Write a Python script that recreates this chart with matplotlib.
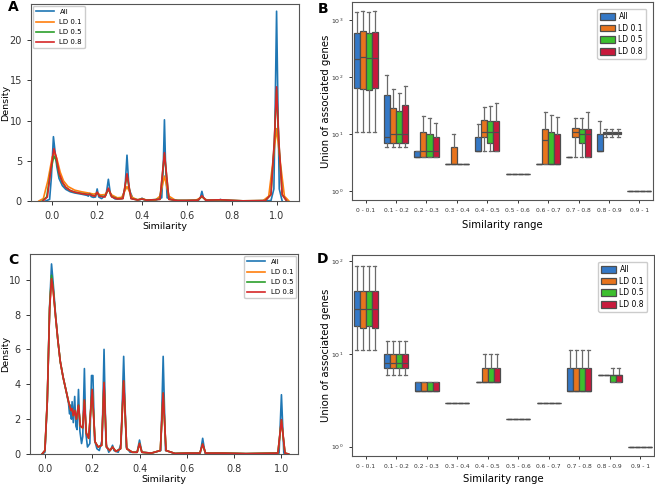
import numpy as np
import matplotlib
matplotlib.use("Agg")
import matplotlib.pyplot as plt
from matplotlib.patches import Patch
from matplotlib.ticker import LogLocator, LogFormatterMathtext, NullLocator

# ---------------- data ----------------
SERIES = ["All", "LD 0.1", "LD 0.5", "LD 0.8"]
LINE_COLORS = ["#1f77b4", "#ff7f0e", "#2ca02c", "#d62728"]
BOX_COLORS = ["#3478c6", "#e8741d", "#3cbf2e", "#c8193c"]

RANGES = ["0 - 0.1", "0.1 - 0.2", "0.2 - 0.3", "0.3 - 0.4", "0.4 - 0.5",
          "0.5 - 0.6", "0.6 - 0.7", "0.7 - 0.8", "0.8 - 0.9", "0.9 - 1"]

# panel A: density curves (similarity, density)
A_ALL = [(-0.03, 0), (-0.012, 0.2), (-0.004, 3.0), (0.005, 8.0), (0.012, 6.2), (0.02, 4.3),
         (0.03, 2.8), (0.045, 1.9), (0.06, 1.45), (0.08, 1.15), (0.1, 1.0), (0.13, 0.85),
         (0.155, 0.7), (0.161, 0.6), (0.167, 0.95), (0.173, 0.55), (0.183, 0.45), (0.193, 0.5),
         (0.2, 1.5), (0.207, 0.5), (0.22, 0.3), (0.24, 0.8), (0.25, 2.7), (0.26, 0.7),
         (0.28, 0.25), (0.31, 0.3), (0.324, 1.5), (0.333, 5.7), (0.342, 1.5), (0.36, 0.25),
         (0.385, 0.15), (0.394, 0.2), (0.4, 0.35), (0.406, 0.2), (0.42, 0.1), (0.46, 0.1),
         (0.488, 0.4), (0.495, 4.5), (0.5, 10.1), (0.505, 4.5), (0.512, 0.4), (0.54, 0.1),
         (0.6, 0.05), (0.65, 0.05), (0.66, 0.4), (0.667, 1.2), (0.674, 0.4), (0.69, 0.05),
         (0.74, 0.05), (0.75, 0.2), (0.76, 0.05), (0.8, 0.02), (0.9, 0.02), (0.975, 0.05),
         (0.988, 1.5), (0.994, 12.0), (1.0, 23.6), (1.006, 12.0), (1.012, 1.5), (1.025, 0)]
A_LD01 = [(-0.06, 0), (-0.04, 0.3), (-0.02, 2.5), (0.0, 5.5), (0.01, 6.0), (0.02, 5.3),
          (0.035, 3.6), (0.05, 2.5), (0.07, 1.8), (0.1, 1.35), (0.13, 1.15), (0.16, 1.0),
          (0.185, 0.85), (0.2, 1.0), (0.215, 0.75), (0.235, 0.8), (0.25, 1.4), (0.265, 0.75),
          (0.29, 0.4), (0.31, 0.45), (0.333, 1.8), (0.356, 0.45), (0.38, 0.15), (0.4, 0.3),
          (0.42, 0.12), (0.46, 0.12), (0.48, 0.6), (0.5, 3.1), (0.52, 0.6), (0.55, 0.08),
          (0.6, 0.05), (0.64, 0.1), (0.667, 0.5), (0.69, 0.1), (0.73, 0.05), (0.75, 0.15),
          (0.77, 0.05), (0.85, 0.02), (0.94, 0.05), (0.965, 0.6), (0.982, 4.5), (1.0, 9.0),
          (1.018, 4.5), (1.035, 0.6), (1.055, 0)]
A_LD05 = [(-0.045, 0), (-0.025, 0.5), (-0.008, 3.6), (0.007, 5.6), (0.018, 5.0), (0.03, 3.3),
          (0.045, 2.3), (0.06, 1.7), (0.08, 1.3), (0.1, 1.1), (0.13, 0.95), (0.16, 0.82),
          (0.168, 0.85), (0.175, 0.72), (0.19, 0.62), (0.2, 1.05), (0.21, 0.62), (0.235, 0.55),
          (0.25, 1.5), (0.265, 0.55), (0.29, 0.27), (0.315, 0.32), (0.333, 3.2), (0.351, 0.32),
          (0.38, 0.13), (0.4, 0.25), (0.42, 0.1), (0.48, 0.22), (0.5, 5.8), (0.52, 0.22),
          (0.56, 0.05), (0.65, 0.1), (0.667, 0.6), (0.684, 0.1), (0.75, 0.15), (0.85, 0.02),
          (0.95, 0.05), (0.975, 0.8), (0.99, 7.3), (1.0, 13.8), (1.01, 7.3), (1.025, 0.8),
          (1.045, 0)]
A_LD08 = [(-0.042, 0), (-0.022, 0.5), (-0.006, 4.0), (0.007, 6.5), (0.018, 5.4), (0.03, 3.5),
          (0.045, 2.35), (0.06, 1.7), (0.08, 1.3), (0.1, 1.1), (0.13, 0.92), (0.16, 0.8),
          (0.168, 0.85), (0.175, 0.7), (0.19, 0.6), (0.2, 1.1), (0.21, 0.6), (0.235, 0.5),
          (0.25, 1.6), (0.265, 0.5), (0.29, 0.25), (0.315, 0.3), (0.333, 3.4), (0.351, 0.3),
          (0.38, 0.12), (0.4, 0.25), (0.42, 0.1), (0.48, 0.2), (0.5, 6.0), (0.52, 0.2),
          (0.56, 0.05), (0.65, 0.1), (0.667, 0.65), (0.684, 0.1), (0.75, 0.15), (0.85, 0.02),
          (0.95, 0.05), (0.975, 0.8), (0.99, 7.5), (1.0, 14.2), (1.01, 7.5), (1.025, 0.8),
          (1.045, 0)]

# panel C: density curves
C_ALL = [(-0.01, 0), (0.0, 0.1), (0.01, 3.0), (0.02, 8.5), (0.028, 10.9), (0.035, 9.8),
         (0.045, 8.0), (0.055, 6.5), (0.065, 5.3), (0.077, 4.4), (0.09, 3.6), (0.1, 2.9),
         (0.104, 2.3), (0.108, 2.8), (0.112, 2.0), (0.115, 3.0), (0.12, 1.8), (0.126, 3.3),
         (0.131, 1.6), (0.136, 1.4), (0.142, 3.7), (0.148, 1.3), (0.155, 0.6), (0.16, 1.0),
         (0.167, 4.9), (0.173, 1.2), (0.18, 0.4), (0.19, 0.6), (0.197, 4.5), (0.203, 4.5),
         (0.21, 0.8), (0.22, 0.3), (0.23, 0.2), (0.242, 0.8), (0.25, 6.0), (0.258, 0.6),
         (0.27, 0.1), (0.28, 0.3), (0.286, 0.5), (0.292, 0.2), (0.31, 0.1), (0.322, 0.6),
         (0.333, 5.6), (0.344, 0.4), (0.36, 0.1), (0.39, 0.1), (0.4, 0.8), (0.41, 0.1),
         (0.45, 0.05), (0.49, 0.2), (0.5, 5.6), (0.51, 0.2), (0.55, 0.03), (0.6, 0.05),
         (0.657, 0.05), (0.667, 0.9), (0.677, 0.05), (0.75, 0.05), (0.85, 0.02), (0.99, 0.05),
         (1.0, 3.4), (1.01, 0.05), (1.02, 0)]
C_LD_X = [-0.012, 0.0, 0.01, 0.02, 0.028, 0.035, 0.045, 0.055, 0.065, 0.077, 0.09, 0.1,
          0.11, 0.115, 0.12, 0.126, 0.133, 0.142, 0.15, 0.16, 0.167, 0.175, 0.185, 0.2,
          0.212, 0.225, 0.24, 0.25, 0.26, 0.275, 0.286, 0.3, 0.32, 0.333, 0.346, 0.37,
          0.39, 0.4, 0.41, 0.45, 0.488, 0.5, 0.512, 0.55, 0.6, 0.655, 0.667, 0.679,
          0.75, 0.85, 0.985, 1.0, 1.015, 1.03]
C_LD01_Y = [0, 0.2, 3.1, 8.4, 10.1, 9.4, 7.9, 6.5, 5.3, 4.4, 3.6, 3.0,
            2.5, 2.6, 2.2, 2.45, 2.0, 2.7, 1.6, 1.5, 3.0, 1.2, 0.9, 3.6,
            0.7, 0.4, 0.5, 4.0, 0.4, 0.2, 0.4, 0.15, 0.3, 4.1, 0.3, 0.1,
            0.1, 0.6, 0.1, 0.05, 0.2, 3.4, 0.2, 0.03, 0.05, 0.05, 0.55, 0.05,
            0.05, 0.02, 0.05, 1.9, 0.05, 0]
C_LD05_Y = [0, 0.2, 3.0, 8.4, 10.25, 9.5, 7.9, 6.5, 5.3, 4.4, 3.6, 3.0,
            2.5, 2.6, 2.2, 2.5, 2.0, 2.8, 1.6, 1.5, 3.1, 1.2, 0.9, 3.7,
            0.7, 0.4, 0.5, 4.1, 0.4, 0.2, 0.4, 0.15, 0.3, 4.2, 0.3, 0.1,
            0.1, 0.6, 0.1, 0.05, 0.2, 3.5, 0.2, 0.03, 0.05, 0.05, 0.57, 0.05,
            0.05, 0.02, 0.05, 1.95, 0.05, 0]
C_LD08_Y = [0, 0.2, 3.0, 8.3, 10.05, 9.4, 7.9, 6.5, 5.3, 4.4, 3.6, 3.0,
            2.5, 2.6, 2.2, 2.5, 2.0, 2.8, 1.6, 1.5, 3.1, 1.2, 0.9, 3.7,
            0.7, 0.4, 0.5, 4.1, 0.4, 0.2, 0.4, 0.15, 0.3, 4.2, 0.3, 0.1,
            0.1, 0.6, 0.1, 0.05, 0.2, 3.5, 0.2, 0.03, 0.05, 0.05, 0.57, 0.05,
            0.05, 0.02, 0.05, 1.97, 0.05, 0]

# panel B: box stats per range (whisker low, q1, median, q3, whisker high)
B_ALL = [(10.7, 65, 210, 608, 1400), (6, 6.9, 8.9, 48, 111), (4, 4, 4, 5, 5), (3, 3, 3, 3, 3),
         (5, 5, 5, 9, 14.8), (2, 2, 2, 2, 2), (3, 3, 3, 3, 3), (4, 4, 4, 4, 4),
         (5, 5, 5, 10, 17), (1, 1, 1, 1, 1)]
B_LD01 = [(10.7, 63, 227, 641, 1480), (6, 6.9, 9.9, 29, 63), (4, 4, 5, 11, 20.4), (3, 3, 3, 6, 10),
          (5, 9, 10.7, 17.7, 30), (2, 2, 2, 2, 2), (3, 3, 8, 12, 24), (4, 9, 10.7, 12.7, 19),
          (9, 10, 10.5, 11, 12), (1, 1, 1, 1, 1)]
B_LD05 = [(10.7, 59, 213, 600, 1420), (6, 6.9, 10, 25, 53), (4, 4, 5, 10, 18.8), (3, 3, 3, 3, 3),
          (5, 7, 10.7, 17, 31.5), (2, 2, 2, 2, 2), (3, 3, 3, 11, 22), (4, 7, 10, 12, 19),
          (9, 10, 10.5, 11, 12), (1, 1, 1, 1, 1)]
B_LD08 = [(10.7, 65, 221, 624, 1480), (6, 6.9, 10, 32, 70), (4, 4, 5, 8.9, 15.8), (3, 3, 3, 3, 3),
          (5, 5, 10.7, 17, 34.7), (2, 2, 2, 2, 2), (3, 3, 3, 10, 20), (4, 4, 10, 12, 24),
          (9, 10, 10.5, 11, 12), (1, 1, 1, 1, 1)]

# panel D
D_ALL = [(11, 20, 31, 48, 90), (6, 7, 8, 10, 14), (4, 4, 4, 5, 5), (3, 3, 3, 3, 3),
         (5, 5, 5, 5, 5), (2, 2, 2, 2, 2), (3, 3, 3, 3, 3), (4, 4, 4, 7, 11),
         (6, 6, 6, 6, 6), (1, 1, 1, 1, 1)]
D_LD01 = [(11, 19, 31, 48, 90), (6, 7, 8, 10, 14), (4, 4, 4, 5, 5), (3, 3, 3, 3, 3),
          (5, 5, 5, 7, 10), (2, 2, 2, 2, 2), (3, 3, 3, 3, 3), (4, 4, 4, 7, 11),
          (6, 6, 6, 6, 6), (1, 1, 1, 1, 1)]
D_LD05 = [(11, 20, 31, 48, 90), (6, 7, 8, 10, 14), (4, 4, 4, 5, 5), (3, 3, 3, 3, 3),
          (5, 5, 5, 7, 10), (2, 2, 2, 2, 2), (3, 3, 3, 3, 3), (4, 4, 4, 7, 11),
          (5, 5, 6, 6, 7), (1, 1, 1, 1, 1)]
D_LD08 = [(11, 19, 31, 48, 90), (6, 7, 8, 10, 14), (4, 4, 4, 5, 5), (3, 3, 3, 3, 3),
          (5, 5, 5, 7, 10), (2, 2, 2, 2, 2), (3, 3, 3, 3, 3), (4, 4, 4, 7, 11),
          (5, 5, 6, 6, 7), (1, 1, 1, 1, 1)]

# ---------------- style ----------------
plt.rcParams["font.family"] = ["DejaVu Sans"]
SPINE = "#555555"
BOXLINE = "#4d4d4d"

W, H = 655, 484
fig = plt.figure(figsize=(W / 100, H / 100), dpi=100)


def px_axes(left, top, right, bottom):
    return fig.add_axes([left / W, 1 - bottom / H, (right - left) / W, (bottom - top) / H])


def style_spines(ax):
    for s in ax.spines.values():
        s.set_color(SPINE)
        s.set_linewidth(0.8)
    ax.tick_params(colors="#333333", width=0.7, length=3)


def density_panel(ax, curves, lims, yticks, legend_loc, label_x):
    for (x, y), name, c in zip(curves, SERIES, LINE_COLORS):
        ax.plot(x, y, color=c, lw=1.2, label=name)
    ax.set_xlim(*lims[0])
    ax.set_ylim(*lims[1])
    ax.set_xticks([0.0, 0.2, 0.4, 0.6, 0.8, 1.0])
    ax.set_yticks(yticks)
    style_spines(ax)
    ax.tick_params(labelsize=7)
    ax.tick_params(axis="x", pad=4)
    ax.set_xlabel("Similarity", fontsize=6.8, labelpad=1)
    ax.set_ylabel("Density", fontsize=6.8)
    ax.yaxis.set_label_coords(label_x, 0.5)
    ax.legend(loc=legend_loc, fontsize=5, handlelength=2.6, borderaxespad=0.3,
              labelspacing=0.6, framealpha=1, edgecolor="#cccccc", fancybox=True)


def box_panel(ax, groups, ylim, xlabelpad):
    offsets = [-0.3, -0.1, 0.1, 0.3]
    handles = []
    for stats_list, off, color, name in zip(groups, offsets, BOX_COLORS, SERIES):
        stats = [dict(whislo=s[0], q1=s[1], med=s[2], q3=s[3], whishi=s[4])
                 for s in stats_list]
        pos = np.arange(len(stats)) + off
        ax.bxp(stats, positions=pos, widths=0.2, patch_artist=True, showfliers=False,
               boxprops=dict(facecolor=color, edgecolor=BOXLINE, linewidth=0.9),
               medianprops=dict(color=BOXLINE, linewidth=0.9),
               whiskerprops=dict(color="#6a6a6a", linewidth=0.9),
               capprops=dict(color="#6a6a6a", linewidth=0.9))
        handles.append(Patch(facecolor=color, edgecolor=BOXLINE, linewidth=0.9, label=name))
    ax.set_yscale("log")
    ax.set_ylim(*ylim)
    ax.set_xlim(-0.45, 9.45)
    ax.set_xticks(np.arange(len(RANGES)))
    ax.set_xticklabels(RANGES, fontsize=4.3)
    ax.yaxis.set_major_locator(LogLocator(base=10))
    ax.yaxis.set_major_formatter(LogFormatterMathtext())
    ax.yaxis.set_minor_locator(NullLocator())
    style_spines(ax)
    ax.tick_params(length=2.5)
    ax.tick_params(axis="y", labelsize=4.5)
    ax.set_xlabel("Similarity range", fontsize=7.3, labelpad=xlabelpad)
    ax.set_ylabel("Union of associated genes", fontsize=7.3)
    ax.yaxis.set_label_coords(-0.07, 0.5)
    ax.legend(handles=handles, loc="upper right", fontsize=5.5, handlelength=2.0,
              handleheight=1.0, borderaxespad=0.9, labelspacing=0.35, handletextpad=0.4,
              framealpha=1, edgecolor="#cccccc")


def unzip(pairs):
    return [p[0] for p in pairs], [p[1] for p in pairs]


# ---------------- panels ----------------
axA = px_axes(31, 4, 299, 201)
density_panel(axA, [unzip(A_ALL), unzip(A_LD01), unzip(A_LD05), unzip(A_LD08)],
              ((-0.095, 1.10), (0, 24.5)), [0, 5, 10, 15, 20], "upper left", -0.077)

axB = px_axes(352, 2, 653, 200)
box_panel(axB, [B_ALL, B_LD01, B_LD05, B_LD08], (10 ** -0.16, 10 ** 3.32), 5)

axC = px_axes(30, 254, 298, 454)
density_parts = [unzip(C_ALL), (C_LD_X, C_LD01_Y), (C_LD_X, C_LD05_Y), (C_LD_X, C_LD08_Y)]
density_panel(axC, density_parts, ((-0.063, 1.07), (0, 11.47)), [0, 2, 4, 6, 8, 10],
              "upper right", -0.074)

axD = px_axes(352, 255, 654, 456)
box_panel(axD, [D_ALL, D_LD01, D_LD05, D_LD08], (10 ** -0.1, 10 ** 2.07), 3)

for letter, x, y in [("A", 13, 7), ("B", 323, 9), ("C", 13, 260), ("D", 323, 259)]:
    fig.text(x / W, 1 - y / H, letter, fontsize=10, fontweight="bold", ha="center", va="center")

fig.savefig("out.png", dpi=100)
